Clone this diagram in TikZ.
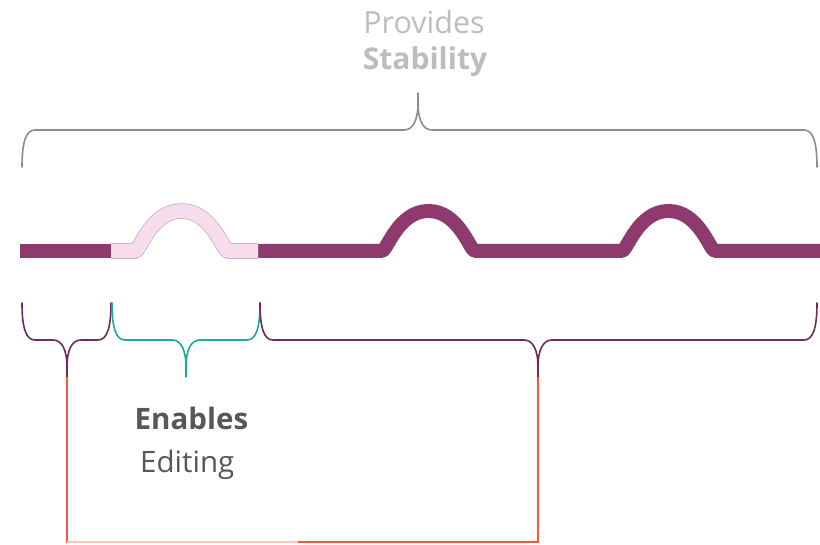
\documentclass[tikz,border=0pt]{standalone}
\usepackage{fontspec}
\setmainfont{Open Sans}

\definecolor{prugna}{HTML}{8E3A6F}
\definecolor{rosa}{HTML}{F7DCEE}
\definecolor{rosabordo}{HTML}{C9AFC1}
\definecolor{viola}{HTML}{6A2C5A}
\definecolor{verdeacqua}{HTML}{1AAB9D}
\definecolor{grigio}{HTML}{8C8C8C}
\definecolor{grigiochiaro}{HTML}{BDBDBD}
\definecolor{grigioscuro}{HTML}{575757}
\definecolor{rosso}{HTML}{F15A40}
\definecolor{rossochiaro}{HTML}{F9C9C0}

% graffa: stile, x sinistra, x punta, x destra, y barra, verso, nome della punta
\newcommand{\curlybr}[7]{%
  \draw[#1] ({#2},{#5-37*(#6)}) .. controls ({#2},{#5-12*(#6)}) and ({#2+4},{#5}) .. ({#2+13},{#5})
    -- ({#3-14},{#5}) .. controls ({#3-5},{#5}) and ({#3},{#5+10*(#6)}) .. ({#3},{#5+27*(#6)})
    -- ({#3},{#5+37*(#6)}) coordinate (#7)
    ({#3},{#5+27*(#6)}) .. controls ({#3},{#5+10*(#6)}) and ({#3+5},{#5}) .. ({#3+14},{#5})
    -- ({#4-13},{#5}) .. controls ({#4-4},{#5}) and ({#4},{#5-12*(#6)}) .. ({#4},{#5-37*(#6)});
}

\begin{document}
\begin{tikzpicture}[x=1pt,y=-1pt,
    banda/.style={line width=14pt,line join=round,draw=prugna},
    graffa/.style={line width=1.6pt,line cap=round},
    testo/.style={font=\fontsize{29.5}{35}\selectfont,inner sep=0pt}]
    \useasboundingbox (0,0) rectangle (820,545);

    % Graffa superiore e testo
    \curlybr{graffa,draw=grigio}{22}{418}{817}{130}{-1}{puntaSu}
    \node[testo,font=\fontsize{30.5}{35}\selectfont,text=grigiochiaro,anchor=base] (prov) at (424,34) {Provides};
    \node[testo,font=\fontsize{30}{35}\selectfont,text=grigiochiaro,anchor=base] (stab) at (425,70) {\textbf{Stability}};

    % Linea spessa con le onde
    \draw[banda] (20,251) -- (111,251);
    \draw[banda] (245,251) -- (382,251)
        .. controls +(5,0) and +(-30.5,0) .. ++(46.5,-40)
        .. controls +(30.5,0) and +(-5,0) .. ++(46.5,40)
        -- (622,251)
        .. controls +(5,0) and +(-30.5,0) .. ++(46.5,-40)
        .. controls +(30.5,0) and +(-5,0) .. ++(46.5,40)
        -- (820,251);
    % tratto chiaro sopra
    \draw[banda,draw=rosabordo,line width=0.8pt,double=rosa,double distance=14pt]
        (111,251) -- (135,251)
        .. controls +(5,0) and +(-30.5,0) .. ++(46.5,-40)
        .. controls +(30.5,0) and +(-5,0) .. ++(46.5,40)
        -- (258,251);

    % Graffe inferiori
    \curlybr{graffa,draw=viola}{22}{67}{111}{340}{1}{puntaA}
    \curlybr{graffa,draw=verdeacqua}{112}{186}{260}{340}{1}{puntaB}
    \curlybr{graffa,draw=viola}{260}{538}{817}{340}{1}{puntaC}

    \node[testo,text=grigioscuro,anchor=base west] (enab) at (134.5,430) {\textbf{Enables}};
    \node[testo,text=grigioscuro,anchor=base west] (edit) at (140,472) {Editing};

    % Collegamento rosso tra le punte
    \coordinate (piega) at (298,542);
    \draw[rosso,line width=2pt] (puntaA) |- (piega) -| (puntaC);
    \draw[rossochiaro,line width=2pt] (puntaA |- piega) -- (piega);
\end{tikzpicture}
\end{document}
